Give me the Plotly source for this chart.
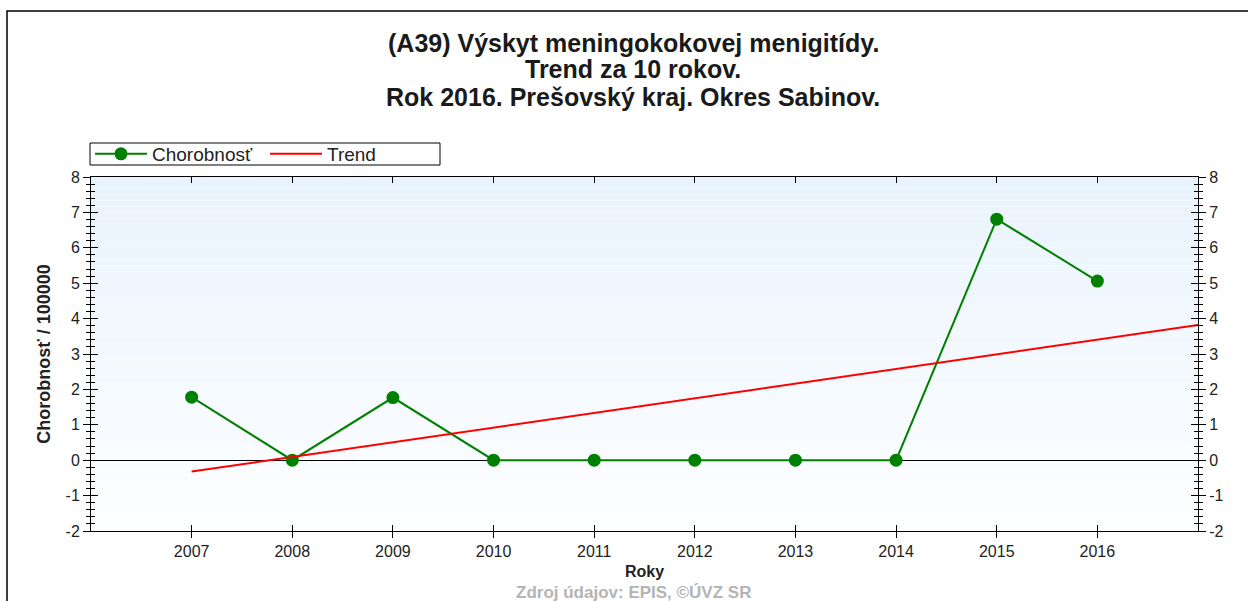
import plotly.graph_objects as go

# Incidence per 100 000 by year
years = [2007, 2008, 2009, 2010, 2011, 2012, 2013, 2014, 2015, 2016]
incidence = [1.78, 0.0, 1.77, 0.0, 0.0, 0.0, 0.0, 0.0, 6.81, 5.06]

# Linear trend end points
trend_years = [2007, 2017]
trend_values = [-0.32, 3.82]

# Value axis ticks
y_ticks = [-2, -1, 0, 1, 2, 3, 4, 5, 6, 7, 8]
y_tick_text = ["-2", "-1", "0", "1", "2", "3", "4", "5", "6", "7", "8"]

title_lines = [
    "(A39) Výskyt meningokokovej menigitídy.",
    "Trend za 10 rokov.",
    "Rok 2016. Prešovský kraj. Okres Sabinov.",
]

FONT = "Liberation Sans, Arial, sans-serif"
W, H = 1248, 601
ML, MR, MT, MB = 91, 50, 177, 70
PW, PH = W - ML - MR, H - MT - MB


def px_x(p):
    return (p - ML) / PW


def px_y(p):
    return (H - MB - p) / PH


fig = go.Figure()

fig.add_trace(go.Scatter(
    x=years, y=incidence, name="Chorobnosť", mode="lines+markers",
    line=dict(color="#008000", width=2),
    marker=dict(color="#008000", size=13),
))
fig.add_trace(go.Scatter(
    x=trend_years, y=trend_values, name="Trend", mode="lines",
    line=dict(color="#ff0000", width=2),
))
# empty traces that carry the extra tick axes
fig.add_trace(go.Scatter(x=[None], y=[None], xaxis="x", yaxis="y2",
                         showlegend=False, hoverinfo="skip"))
fig.add_trace(go.Scatter(x=[None], y=[None], xaxis="x2", yaxis="y3",
                         showlegend=False, hoverinfo="skip"))

# vertical gradient background of the plot area
top = (233, 243, 253)
bot = (253, 254, 255)
n = 60
shapes = []
for i in range(n):
    t = i / (n - 1)
    c = tuple(round(top[k] + (bot[k] - top[k]) * t) for k in range(3))
    shapes.append(dict(
        type="rect", xref="paper", yref="paper",
        x0=0, x1=1, y0=1 - (i + 1) / n, y1=1 - i / n,
        fillcolor="rgb(%d,%d,%d)" % c, line=dict(width=0), layer="below",
    ))
# outer frame
shapes.append(dict(
    type="rect", xref="paper", yref="paper",
    x0=px_x(7), x1=1.3, y0=-0.5, y1=px_y(11),
    line=dict(color="black", width=1.5), fillcolor="rgba(0,0,0,0)",
    layer="above",
))
# legend frame
shapes.append(dict(
    type="rect", xref="paper", yref="paper",
    x0=px_x(90), x1=px_x(440), y0=px_y(165), y1=px_y(143),
    line=dict(color="black", width=1), fillcolor="white", layer="above",
))

annotations = []
for txt, py in zip(title_lines, [43, 69, 97]):
    annotations.append(dict(
        text="<b>%s</b>" % txt, xref="paper", yref="paper",
        x=px_x(633), y=px_y(py), xanchor="center", yanchor="middle",
        showarrow=False, font=dict(family=FONT, size=25, color="#1a1a1a"),
    ))
annotations.append(dict(
    text="<b>Zdroj údajov: EPIS, ©ÚVZ SR</b>", xref="paper", yref="paper",
    x=px_x(633), y=px_y(592), xanchor="center", yanchor="middle",
    showarrow=False, font=dict(family=FONT, size=17, color="#b4b4b4"),
))

tickfont = dict(family=FONT, size=16, color="#222222")

fig.update_layout(
    width=W, height=H,
    margin=dict(l=ML, r=MR, t=MT, b=MB),
    paper_bgcolor="white", plot_bgcolor="white",
    font=dict(family=FONT, color="#222222"),
    shapes=shapes, annotations=annotations,
    showlegend=True,
    legend=dict(
        orientation="h", x=px_x(90), y=px_y(154), xanchor="left",
        yanchor="middle", bgcolor="rgba(0,0,0,0)", borderwidth=0,
        font=dict(family=FONT, size=19, color="#222222"),
        entrywidth=108, entrywidthmode="pixels", itemwidth=52,
    ),
    xaxis=dict(
        range=[2006, 2017], tickvals=years, ticks="outside", ticklen=6,
        tickcolor="black", showline=True, linecolor="black", mirror=True,
        showgrid=False, zeroline=False, tickfont=tickfont,
        title=dict(text="<b>Roky</b>", font=dict(family=FONT, size=16),
                   standoff=6),
    ),
    xaxis2=dict(
        range=[2006, 2017], tickvals=years, overlaying="x", anchor="y",
        side="bottom", ticks="inside", ticklen=6, tickcolor="black",
        mirror="ticks", showline=True, linecolor="black",
        showticklabels=False, showgrid=False, zeroline=False,
    ),
    yaxis=dict(
        range=[-2, 8], tickvals=y_ticks, ticktext=y_tick_text,
        ticks="outside", ticklen=7, tickcolor="black",
        showline=True, linecolor="black", showgrid=False,
        zeroline=True, zerolinecolor="black", zerolinewidth=1,
        tickfont=tickfont,
        minor=dict(dtick=0.2, ticks="outside", ticklen=4, tickcolor="black"),
        title=dict(text="<b>Chorobnosť / 100000</b>",
                   font=dict(family=FONT, size=18), standoff=10),
    ),
    yaxis2=dict(
        range=[-2, 8], tickvals=y_ticks, ticktext=y_tick_text,
        overlaying="y", side="right", anchor="x",
        ticks="outside", ticklen=7, tickcolor="black", showline=True,
        linecolor="black", showgrid=False, zeroline=False, tickfont=tickfont,
        minor=dict(dtick=0.2, ticks="outside", ticklen=4, tickcolor="black"),
    ),
    yaxis3=dict(
        range=[-2, 8], tickvals=y_ticks, overlaying="y", side="left",
        anchor="x2", ticks="inside", ticklen=7, tickcolor="black",
        mirror="ticks", showline=True, linecolor="black", showgrid=False,
        zeroline=False, showticklabels=False,
        minor=dict(dtick=0.2, ticks="inside", ticklen=4, tickcolor="black"),
    ),
)

fig.write_html("out.html")
